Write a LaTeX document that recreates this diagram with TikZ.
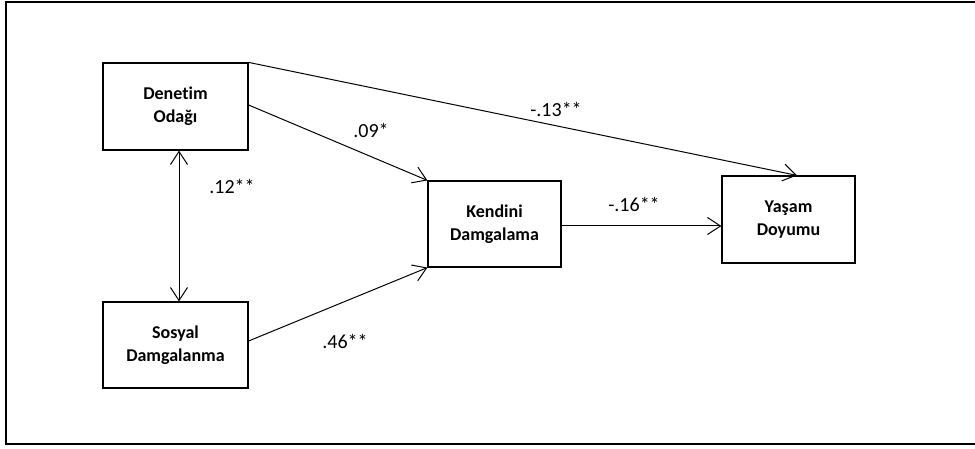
\documentclass[tikz,border=0pt]{standalone}
\usepackage{fontspec}
\setmainfont{Carlito}[Ligatures=NoCommon]
\usetikzlibrary{arrows.meta}
\begin{document}
\begin{tikzpicture}[x=1pt, y=-1pt,
    >={Straight Barb[length=13pt, width=17pt, line width=1pt]},
    box/.style={draw, line width=1.2pt, align=center, inner sep=0pt,
        font=\bfseries\fontsize{18}{23}\selectfont},
    link/.style={line width=1pt, ->},
    coef/.style={font=\fontsize{20}{24}\selectfont}]
\useasboundingbox (0,0) rectangle (975,449);
\draw[line width=1.2pt] (980,2) -- (6,2) -- (6,444) -- (980,444);
\node[box, minimum width=145pt, minimum height=87pt] (den) at (175.5,106.5) {Denetim\\Odağı};
\node[box, minimum width=145pt, minimum height=86pt] (sos) at (175.5,345) {Sosyal\\Damgalanma};
\node[box, minimum width=133pt, minimum height=86pt] (ken) at (494.5,224) {Kendini\\Damgalama};
\node[box, minimum width=133pt, minimum height=87pt] (yas) at (788.5,219.5) {Yaşam\\Doyumu};
% paths
\draw[link] (den.north east) -- ([xshift=8.5pt]yas.north);
\draw[link] ([yshift=1.5pt]den.east) -- (ken.north west);
\draw[link] ([yshift=4pt]sos.east) -- (ken.south west);
\draw[link] ([yshift=-2pt]ken.east) -- ([yshift=-2pt]ken.east -| yas.west);
\draw[link, <->] ([xshift=3.5pt]den.south) -- ([xshift=3.5pt]sos.north);
% coefficients
\foreach \x/\y/\t [count=\i] in {232/186/.12**, 371/130/.09*, 556/109/-.13**, 345/341/.46**, 634/204/-.16**}
    \node[coef] (c\i) at (\x,\y) {\t};
\end{tikzpicture}
\end{document}
